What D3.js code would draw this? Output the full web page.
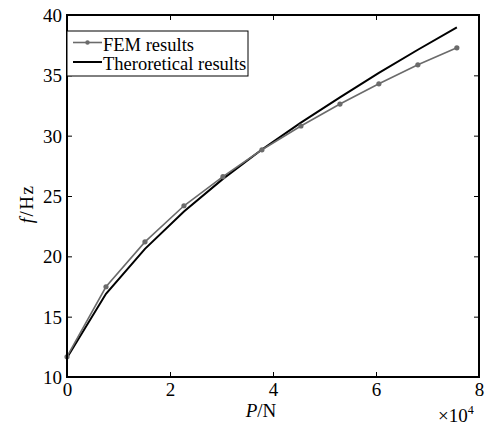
<!DOCTYPE html>
<html>
<head>
<meta charset="utf-8">
<script src="https://cdn.jsdelivr.net/npm/d3@7"></script>
<style>
  body { margin: 0; background: #fff; }
  svg { display: block; }
  text { font-family: "Liberation Serif", "Times New Roman", serif; }
</style>
</head>
<body>
<div id="chart"></div>
<script>
const w = 492;
const h = 426;

// P in units of 10^4 N
const loads = [0, 0.757, 1.514, 2.271, 3.028, 3.785, 4.542, 5.3, 6.056, 6.813, 7.57];
const femValues = [11.68, 17.48, 21.2, 24.19, 26.6, 28.83, 30.8, 32.62, 34.3, 35.87, 37.28];
const theoryValues = [11.6, 16.9, 20.62, 23.72, 26.42, 28.85, 31.08, 33.18, 35.2, 37.12, 38.97];
const xTicks = [0, 2, 4, 6, 8];
const yTicks = [10, 15, 20, 25, 30, 35, 40];
const seriesNames = ["FEM results", "Theroretical results"];

const plotLeft = 67, plotRight = 479, plotTop = 15, plotBottom = 377;
const tickLen = 5;
const femColor = "#6b6b6b";
const fontSize = "19px";

const svg = d3.select("#chart")
    .append("svg")
    .attr("width", w)
    .attr("height", h);

const x = d3.scaleLinear().domain([0, 8]).range([plotLeft, plotRight]);
const y = d3.scaleLinear().domain([10, 40]).range([plotBottom, plotTop]);

// data lines
const line = d3.line()
    .x(function (d) { return x(d[0]); })
    .y(function (d) { return y(d[1]); });

const femData = d3.zip(loads, femValues);
const theoryData = d3.zip(loads, theoryValues);

svg.append("path")
    .datum(theoryData)
    .attr("d", line)
    .attr("fill", "none")
    .attr("stroke", "#000")
    .attr("stroke-width", 2);

svg.append("path")
    .datum(femData)
    .attr("d", line)
    .attr("fill", "none")
    .attr("stroke", femColor)
    .attr("stroke-width", 1.6);

svg.selectAll("circle.fem")
    .data(femData)
    .enter()
    .append("circle")
    .attr("class", "fem")
    .attr("cx", function (d) { return x(d[0]); })
    .attr("cy", function (d) { return y(d[1]); })
    .attr("r", 2.6)
    .attr("fill", femColor);

// axes, ticks pointing inward on all four sides
function styleAxis(g) {
    g.select(".domain").remove();
    g.selectAll(".tick line").attr("stroke", "#000").attr("stroke-width", 1);
    g.selectAll(".tick text")
        .attr("font-family", "Liberation Serif, serif")
        .attr("font-size", fontSize)
        .attr("fill", "#000");
}

svg.append("g")
    .attr("transform", "translate(0," + plotBottom + ")")
    .call(d3.axisBottom(x).tickValues(xTicks).tickFormat(d3.format("d"))
        .tickSizeInner(-tickLen).tickSizeOuter(0))
    .call(styleAxis)
    .call(function (g) { g.selectAll(".tick text").attr("dy", null).attr("y", 18.5); });

svg.append("g")
    .attr("transform", "translate(0," + plotTop + ")")
    .call(d3.axisTop(x).tickValues(xTicks).tickFormat("")
        .tickSizeInner(-tickLen).tickSizeOuter(0))
    .call(styleAxis);

svg.append("g")
    .attr("transform", "translate(" + plotLeft + ",0)")
    .call(d3.axisLeft(y).tickValues(yTicks).tickFormat(d3.format("d"))
        .tickSizeInner(-tickLen).tickSizeOuter(0))
    .call(styleAxis)
    .call(function (g) { g.selectAll(".tick text").attr("x", -5).attr("dy", "0.34em"); });

svg.append("g")
    .attr("transform", "translate(" + plotRight + ",0)")
    .call(d3.axisRight(y).tickValues(yTicks).tickFormat("")
        .tickSizeInner(-tickLen).tickSizeOuter(0))
    .call(styleAxis);

// frame
svg.append("rect")
    .attr("x", plotLeft)
    .attr("y", plotTop)
    .attr("width", plotRight - plotLeft)
    .attr("height", plotBottom - plotTop)
    .attr("fill", "none")
    .attr("stroke", "#000")
    .attr("stroke-width", 2);

// axis labels
const xLabel = svg.append("text")
    .attr("x", 261)
    .attr("y", 417)
    .attr("text-anchor", "middle")
    .attr("font-size", fontSize);
xLabel.append("tspan").attr("font-style", "italic").text("P");
xLabel.append("tspan").text("/N");

const xExp = svg.append("text")
    .attr("x", 438)
    .attr("y", 422)
    .attr("font-size", fontSize);
xExp.append("tspan").text("×10");
xExp.append("tspan").attr("font-size", "12px").attr("dy", "-8").text("4");

const yLabel = svg.append("text")
    .attr("transform", "translate(33,204) rotate(-90)")
    .attr("text-anchor", "middle")
    .attr("font-size", fontSize)
    .attr("letter-spacing", "1.5px");
yLabel.append("tspan").attr("font-style", "italic").text("f");
yLabel.append("tspan").text("/Hz");

// legend
const legend = svg.append("g");
legend.append("rect")
    .attr("x", plotLeft)
    .attr("y", 31)
    .attr("width", 181)
    .attr("height", 45)
    .attr("fill", "#fff")
    .attr("stroke", "#000")
    .attr("stroke-width", 1);

legend.append("line")
    .attr("x1", 73).attr("x2", 102)
    .attr("y1", 42.5).attr("y2", 42.5)
    .attr("stroke", femColor).attr("stroke-width", 1.6);
legend.append("circle")
    .attr("cx", 87.5).attr("cy", 42.5).attr("r", 2.2)
    .attr("fill", femColor);
legend.append("line")
    .attr("x1", 73).attr("x2", 102)
    .attr("y1", 62).attr("y2", 62)
    .attr("stroke", "#000").attr("stroke-width", 2);

legend.selectAll("text.leg")
    .data(seriesNames)
    .enter()
    .append("text")
    .attr("class", "leg")
    .attr("x", 103)
    .attr("y", function (d, i) { return 51 + i * 18.5; })
    .attr("font-size", "18.5px")
    .text(function (d) { return d; });
</script>
</body>
</html>
